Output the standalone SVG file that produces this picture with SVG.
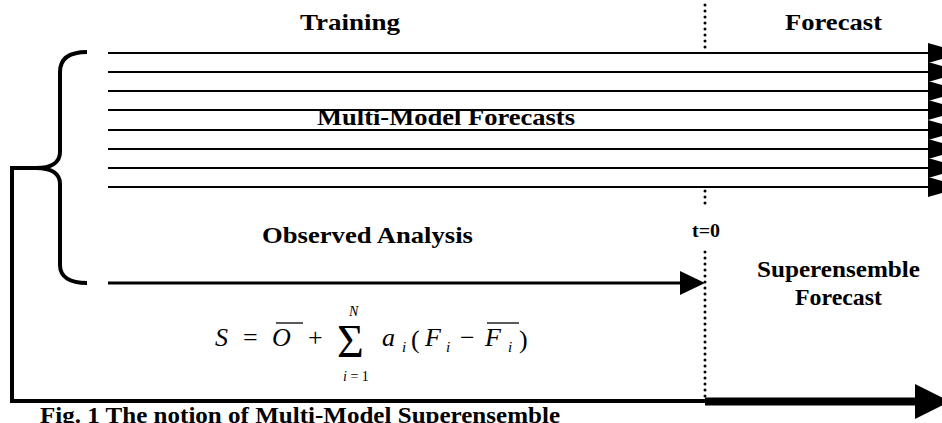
<svg xmlns="http://www.w3.org/2000/svg" width="942" height="423" viewBox="0 0 942 423">
<style>
.lbl{font-weight:bold;fill:#000}
.m{fill:#000}
.it{font-style:italic}
.fl{stroke:#000;stroke-width:2;fill:none}
.ah{fill:#000}
.dot{stroke:#000;stroke-width:3;stroke-linecap:round;stroke-dasharray:0 6;fill:none}
</style>
<rect width="942" height="423" fill="#fff"/>
<g id="labels" font-family="Liberation Serif, Times New Roman, Times, Nimbus Roman, DejaVu Serif, serif">
<text class="lbl" x="300" y="30" style="font-size:23px" textLength="100" lengthAdjust="spacingAndGlyphs">Training</text>
<text class="lbl" x="785" y="30" style="font-size:23px" textLength="97" lengthAdjust="spacingAndGlyphs">Forecast</text>
<text class="lbl" x="317" y="125" style="font-size:23px" textLength="258" lengthAdjust="spacingAndGlyphs">Multi-Model Forecasts</text>
<text class="lbl" x="262" y="243" style="font-size:23px" textLength="211" lengthAdjust="spacingAndGlyphs">Observed Analysis</text>
<text class="lbl" x="692" y="237" style="font-size:18px" textLength="28" lengthAdjust="spacingAndGlyphs">t=0</text>
<text class="lbl" x="757" y="277" style="font-size:23px" textLength="163" lengthAdjust="spacingAndGlyphs">Superensemble</text>
<text class="lbl" x="795" y="305" style="font-size:23px" textLength="87" lengthAdjust="spacingAndGlyphs">Forecast</text>
<text class="lbl" x="40" y="423" style="font-size:24px" textLength="520" lengthAdjust="spacingAndGlyphs">Fig. 1 The notion of Multi-Model Superensemble</text>
</g>
<g id="formula" font-family="Liberation Serif, Times New Roman, Times, Nimbus Roman, DejaVu Serif, serif">
<text class="m it" x="215" y="346" style="font-size:26px">S</text>
<text class="m" x="243" y="346" style="font-size:26px">=</text>
<text class="m it" x="272" y="346" style="font-size:26px">O</text>
<line x1="276" y1="323" x2="303" y2="323" stroke="#000" stroke-width="1.3"/>
<text class="m" x="308" y="346" style="font-size:26px">+</text>
<text class="m" x="337" y="357" style="font-size:46px">Σ</text>
<text class="m it" x="349" y="316" style="font-size:14px">N</text>
<text class="m" x="343" y="381" style="font-size:14px"><tspan class="it">i</tspan> = 1</text>
<text class="m it" x="382" y="346" style="font-size:26px">a</text>
<text class="m it" x="402" y="352" style="font-size:15px">i</text>
<text class="m" x="411" y="348" style="font-size:26px">(</text>
<text class="m it" x="425" y="346" style="font-size:26px">F</text>
<text class="m it" x="446" y="352" style="font-size:15px">i</text>
<text class="m" x="460" y="346" style="font-size:26px">−</text>
<text class="m it" x="485" y="346" style="font-size:26px">F</text>
<line x1="487" y1="323" x2="519" y2="323" stroke="#000" stroke-width="1.3"/>
<text class="m it" x="508" y="352" style="font-size:15px">i</text>
<text class="m" x="519" y="348" style="font-size:26px">)</text>
</g>
<g id="brace">
<path d="M87,52 C70,52 60,58 60,72 L60,152 C60,162 52,168 36,168 C52,168 60,174 60,184 L60,265 C60,277 70,283 87,283" fill="none" stroke="#000" stroke-width="4"/>
</g>
<g id="timeline">
<line class="dot" x1="705" y1="5" x2="705" y2="48"/>
<line class="dot" x1="705" y1="191" x2="705" y2="205"/>
<line class="dot" x1="705" y1="252" x2="705" y2="398"/>
</g>
<g id="connectors">
<line class="fl" x1="108" y1="53" x2="930" y2="53"/>
<line class="fl" x1="108" y1="72" x2="930" y2="72"/>
<line class="fl" x1="108" y1="91" x2="930" y2="91"/>
<line class="fl" x1="108" y1="110" x2="930" y2="110"/>
<line class="fl" x1="108" y1="130" x2="930" y2="130"/>
<line class="fl" x1="108" y1="149" x2="930" y2="149"/>
<line class="fl" x1="108" y1="168" x2="930" y2="168"/>
<line class="fl" x1="108" y1="187" x2="930" y2="187"/>
<polygon class="ah" points="928,43 962,53 928,63"/>
<polygon class="ah" points="928,62 962,72 928,82"/>
<polygon class="ah" points="928,81 962,91 928,101"/>
<polygon class="ah" points="928,100 962,110 928,120"/>
<polygon class="ah" points="928,120 962,130 928,140"/>
<polygon class="ah" points="928,139 962,149 928,159"/>
<polygon class="ah" points="928,158 962,168 928,178"/>
<polygon class="ah" points="928,177 962,187 928,197"/>
<line x1="108" y1="283" x2="682" y2="283" stroke="#000" stroke-width="3"/>
<polygon class="ah" points="680,271 705,283 680,295"/>
<path d="M12,168 L36,168" fill="none" stroke="#000" stroke-width="4"/>
<path d="M12,166 L12,401 L705,401" fill="none" stroke="#000" stroke-width="4"/>
<line x1="705" y1="401.5" x2="918" y2="401.5" stroke="#000" stroke-width="8"/>
<polygon class="ah" points="915,384 950,401.5 915,419"/>
</g>
</svg>
